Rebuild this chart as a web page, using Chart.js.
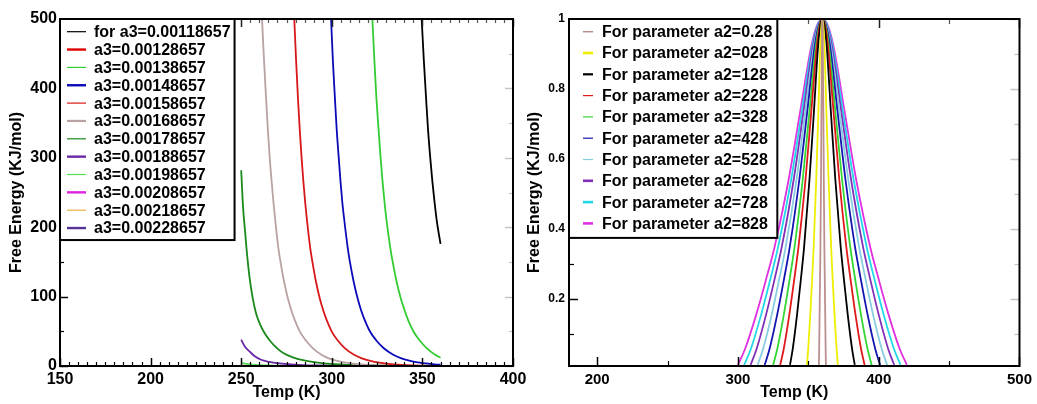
<!DOCTYPE html>
<html>
<head>
<meta charset="utf-8">
<script src="https://cdn.jsdelivr.net/npm/chart.js@4.4.1/dist/chart.umd.min.js"></script>
<style>
  html, body { margin: 0; padding: 0; background: #fff; }
  #wrap { position: relative; width: 1037px; height: 404px; overflow: hidden; }
  .panel { position: absolute; top: 0; height: 404px; }
  #p1 { left: 0; width: 532px; }
  #p2 { left: 520px; width: 517px; }
</style>
</head>
<body>
<div id="wrap">
  <div class="panel" id="p1"><canvas id="c1"></canvas></div>
  <div class="panel" id="p2"><canvas id="c2"></canvas></div>
</div>
<script>
// ---------- Left panel: free energy vs temperature for a range of a3 ----------
const a3Labels = [
  'for a3=0.00118657', 'a3=0.00128657', 'a3=0.00138657', 'a3=0.00148657',
  'a3=0.00158657', 'a3=0.00168657', 'a3=0.00178657', 'a3=0.00188657',
  'a3=0.00198657', 'a3=0.00208657', 'a3=0.00218657', 'a3=0.00228657'
];
const tempA3_1 = [349.6, 350.8, 352.0, 353.1, 354.3, 355.5, 356.7, 357.9, 360];
const feA3_1   = [500, 440, 387, 341, 301, 266, 236, 210, 176];
const tempA3_2 = [];
const feA3_2   = [];
const tempA3_3 = [322.4, 323.5, 324.6, 325.8, 326.9, 328.0, 329.1, 330.2, 332.3, 333.6,
                  335.8, 338.0, 340.2, 342.3, 345.0, 348.5, 352.5, 357.0, 360];
const feA3_3   = [500, 440, 387, 341, 301, 266, 236, 210, 170, 150,
                  121, 98, 80, 65, 50, 36.7, 25.5, 16.2, 12];
const tempA3_4 = [299.6, 300.6, 301.7, 302.7, 303.8, 304.8, 305.8, 306.9, 308.8, 310.0,
                  312.1, 314.2, 316.2, 318.3, 321.0, 324.6, 328.7, 333.9, 338.4, 343.3,
                  348.5, 356.8, 360];
const feA3_4   = [500, 440, 387, 341, 301, 266, 236, 210, 170, 150,
                  121, 98, 80, 65.3, 50, 36.7, 25.5, 16.2, 11, 7.3,
                  4.8, 2.4, 1.8];
const tempA3_5 = [279.3, 280.3, 281.3, 282.3, 283.3, 284.3, 285.3, 286.3, 288.1, 289.3,
                  291.3, 293.3, 295.3, 297.3, 299.9, 303.3, 307.3, 312.3, 316.6, 321.3,
                  326.3, 334.3, 344.3, 360];
const feA3_5   = [500, 440, 387, 341, 301, 266, 236, 210, 170, 150,
                  121, 98, 80, 65.3, 50, 36.7, 25.5, 16.2, 11, 7.3,
                  4.8, 2.4, 1.0, 0.3];
const tempA3_6 = [261.5, 262.6, 263.7, 264.7, 265.7, 266.8, 267.8, 268.8, 270.5, 271.7,
                  273.7, 275.7, 277.7, 279.7, 282.3, 285.7, 289.6, 294.3, 298.3, 303,
                  308, 316, 326, 342, 360];
const feA3_6   = [500, 440, 387, 341, 301, 266, 236, 210, 170, 150,
                  121, 98, 80, 65.3, 50, 36.7, 25.5, 16.2, 11, 7.3,
                  4.8, 2.4, 1.0, 0.3, 0.1];
const tempA3_7 = [250, 251, 252.2, 252.9, 254.5, 256.4, 258.3, 260.4, 262.8, 266,
                  270, 273.7, 278.5, 284, 292, 300, 310, 322, 338, 360];
const feA3_7   = [282, 230, 192, 170, 130, 97, 75, 60, 48, 36,
                  25, 18, 12.5, 8.5, 5, 3, 1.6, 0.8, 0.3, 0.1];
const tempA3_8 = [250, 252, 254.7, 257.5, 261, 265.5, 270, 276, 284, 295, 310, 330, 360];
const feA3_8   = [38, 28, 20.7, 14, 9, 6, 4, 2.5, 1.4, 0.7, 0.3, 0.1, 0.02];
const tempA3_9 = [250, 253, 256, 260, 265, 272, 282, 300, 330, 360];
const feA3_9   = [4.5, 3, 2, 1.2, 0.7, 0.35, 0.15, 0.05, 0.01, 0];
const tempA3_10 = [250, 260, 275, 300, 360];
const feA3_10   = [0.6, 0.25, 0.08, 0.02, 0];
const tempA3_11 = [250, 260, 280, 360];
const feA3_11   = [0.08, 0.03, 0.01, 0];
const tempA3_12 = [250, 265, 290, 360];
const feA3_12   = [0.01, 0.005, 0, 0];

const leftXTicks = [150, 200, 250, 300, 350, 400];
const leftYTicks = [0, 100, 200, 300, 400, 500];

// ---------- Right panel: normalised profile vs temperature for a range of a2 ----------
const a2Labels = [
  'For parameter a2=0.28', 'For parameter a2=028', 'For parameter a2=128',
  'For parameter a2=228', 'For parameter a2=328', 'For parameter a2=428',
  'For parameter a2=528', 'For parameter a2=628', 'For parameter a2=728',
  'For parameter a2=828'
];
// heights at which each curve's temperatures below were read
const bellLevels = [0.01, 0.055, 0.154, 0.255, 0.347, 0.54, 0.73, 0.92, 0.98, 1,
                    0.98, 0.92, 0.73, 0.54, 0.347, 0.255, 0.154, 0.055, 0.01];
const tempA2_0   = [357.5, 357.7, 358.0, 358.3, 358.6, 359.0, 359.3, 359.7, 359.8, 360,
                    360.2, 360.3, 360.7, 361.0, 361.4, 361.7, 362.0, 362.3, 362.5];
const tempA2_28  = [349.0, 349.9, 351.4, 352.7, 353.8, 355.6, 357.1, 358.5, 359.3, 360,
                    360.7, 361.5, 362.9, 364.4, 366.2, 367.3, 368.6, 370.1, 371.0];
const tempA2_128 = [337.0, 338.9, 342.0, 344.7, 347.0, 350.8, 353.9, 356.9, 358.5, 360,
                    361.5, 363.1, 366.1, 369.2, 373.0, 375.3, 378.0, 381.1, 383.0];
const tempA2_228 = [330.0, 332.5, 336.5, 340.0, 343.0, 348.0, 352.0, 356.0, 358.0, 360,
                    362.0, 364.0, 368.0, 372.0, 377.0, 380.0, 383.5, 387.5, 390.0];
const tempA2_328 = [325.0, 327.9, 332.6, 336.7, 340.2, 346.0, 350.7, 355.3, 357.7, 360,
                    362.3, 364.7, 369.3, 374.0, 379.8, 383.3, 387.4, 392.1, 395.0];
const tempA2_428 = [319.0, 322.4, 327.9, 332.7, 336.8, 343.6, 349.1, 354.5, 357.3, 360,
                    362.7, 365.5, 370.9, 376.4, 383.2, 387.3, 392.1, 397.6, 401.0];
const tempA2_528 = [314.0, 317.8, 324.0, 329.3, 333.9, 341.6, 347.7, 353.9, 356.9, 360,
                    363.1, 366.1, 372.3, 378.4, 386.1, 390.7, 396.0, 402.2, 406.0];
const tempA2_628 = [309.0, 313.2, 320.0, 326.0, 331.1, 339.6, 346.4, 353.2, 356.6, 360,
                    363.4, 366.8, 373.6, 380.4, 388.9, 394.0, 400.0, 406.8, 411.0];
const tempA2_728 = [304.5, 309.1, 316.5, 323.0, 328.5, 337.8, 345.2, 352.6, 356.3, 360,
                    363.7, 367.4, 374.8, 382.2, 391.5, 397.0, 403.5, 410.9, 415.5];
const tempA2_828 = [300.0, 305.0, 313.0, 320.0, 326.0, 336.0, 344.0, 352.0, 356.0, 360,
                    364.0, 368.0, 376.0, 384.0, 394.0, 400.0, 407.0, 415.0, 420.0];

const rightXTicks = [200, 300, 400, 500];
const rightYTicks = [0.2, 0.4, 0.6, 0.8, 1];

// ---------- styles ----------
const a3Colors = ['#000000', '#e00000', '#33cc33', '#0a0ab8', '#d81818', '#b8a2a2',
                  '#1a8a1a', '#6a2aa8', '#55dd55', '#dd22dd', '#e8b040', '#553399'];
const a3KeyWidths = [1.2, 2.4, 1.2, 2.4, 1.2, 2.2, 1.2, 2.4, 1.2, 2.4, 1.2, 2.4];
const a2Colors = ['#bc8f8f', '#eeee00', '#000000', '#e01a1a', '#33d633', '#1414b0',
                  '#88cce0', '#8030b8', '#22d8e8', '#e030e0'];
const a2KeyWidths = [1.5, 2.6, 2.2, 1.2, 1.2, 1.2, 1.2, 2.6, 2.6, 2.6];

const FONT = "'Liberation Sans', Arial, Helvetica, sans-serif";

function toPoints(xs, ys) { return xs.map((t, i) => ({ x: t, y: ys[i] })); }

const a3Series = [
  [tempA3_1, feA3_1], [tempA3_2, feA3_2], [tempA3_3, feA3_3], [tempA3_4, feA3_4],
  [tempA3_5, feA3_5], [tempA3_6, feA3_6], [tempA3_7, feA3_7], [tempA3_8, feA3_8],
  [tempA3_9, feA3_9], [tempA3_10, feA3_10], [tempA3_11, feA3_11], [tempA3_12, feA3_12]
];
const a2Temps = [tempA2_0, tempA2_28, tempA2_128, tempA2_228, tempA2_328, tempA2_428,
                 tempA2_528, tempA2_628, tempA2_728, tempA2_828];

// Inward ticks on all four sides, the plot frame, axis titles and a boxed key.
const framePlugin = {
  id: 'framePlugin',
  afterDatasetsDraw(chart, args, o) {
    const { ctx, chartArea: a, scales: { x, y } } = chart;
    ctx.save();
    const seg = (x1, y1, x2, y2, color, w) => {
      ctx.beginPath(); ctx.strokeStyle = color; ctx.lineWidth = w;
      ctx.moveTo(x1, y1); ctx.lineTo(x2, y2); ctx.stroke();
    };
    const xt = (vals, len, w, topColor) => vals.forEach(v => {
      const px = Math.round(x.getPixelForValue(v)) + 0.5;
      seg(px, a.bottom, px, a.bottom - len, '#000', w);
      seg(px, a.top, px, a.top + len, topColor, w);
    });
    const yt = (vals, len, w) => vals.forEach(v => {
      const py = Math.round(y.getPixelForValue(v)) + 0.5;
      seg(a.left, py, a.left + len, py, '#000', w);
      seg(a.right, py, a.right - len, py, '#c4c4c4', w);
    });
    xt(o.xMinor, o.minorLen, 1.2, '#555');
    xt(o.xMajor, o.majorLen, 1.5, '#222');
    yt(o.yMinor, o.minorLen, 1.2);
    yt(o.yMajor, o.majorLen, 1.5);

    ctx.lineWidth = 2; ctx.strokeStyle = '#000';
    ctx.strokeRect(a.left, a.top, a.right - a.left, a.bottom - a.top);

    // axis titles
    ctx.fillStyle = '#000';
    ctx.font = 'bold 16px ' + FONT;
    ctx.textAlign = 'center'; ctx.textBaseline = 'middle';
    ctx.fillText('Temp (K)', (a.left + a.right) / 2, o.xTitleY);
    ctx.save();
    ctx.translate(o.yTitleX, (a.top + a.bottom) / 2);
    ctx.rotate(-Math.PI / 2);
    ctx.fillText('Free Energy (KJ/mol)', 0, 0);
    ctx.restore();

    // key
    const ds = chart.data.datasets;
    ctx.font = 'bold 16px ' + FONT;
    ctx.textAlign = 'left';
    let maxW = 0;
    ds.forEach(d => { maxW = Math.max(maxW, ctx.measureText(d.label).width); });
    const bx = a.left, by = a.top;
    const bw = o.textX + maxW + o.keyPadRight;
    const bh = o.firstRow + (ds.length - 1) * o.rowH + o.keyPadBottom;
    ctx.fillStyle = '#fff';
    ctx.fillRect(bx, by, bw, bh);
    ds.forEach((d, i) => {
      const ry = by + o.firstRow + i * o.rowH;
      seg(bx + o.lineX0, ry, bx + o.lineX1, ry, d.borderColor, o.keyWidths[i]);
      ctx.fillStyle = '#000';
      ctx.fillText(d.label, bx + o.textX, ry + 1);
    });
    ctx.lineWidth = 2; ctx.strokeStyle = '#000';
    ctx.strokeRect(bx, by, bw, bh);
    ctx.restore();
  }
};

function fixedSize(w, h) {
  return s => { if (w !== null) s.width = w; if (h !== null) s.height = h; };
}
function range(a, b, step, skip) {
  const out = [];
  for (let v = a; v <= b + 1e-9; v += step) {
    const r = Math.round(v * 1000) / 1000;
    if (!skip.some(k => Math.abs(k - r) < 1e-6)) out.push(r);
  }
  return out;
}

Chart.defaults.font.family = FONT;
Chart.defaults.color = '#000';

new Chart(document.getElementById('c1'), {
  type: 'line',
  data: {
    datasets: a3Series.map((s, i) => ({
      label: a3Labels[i],
      data: toPoints(s[0], s[1]),
      borderColor: a3Colors[i],
      borderWidth: 1.8,
      pointRadius: 0,
      fill: false,
      cubicInterpolationMode: 'monotone'
    }))
  },
  options: {
    responsive: true, maintainAspectRatio: false, animation: false, devicePixelRatio: 1,
    layout: { padding: { top: 19, right: 19, bottom: 0, left: 0 } },
    plugins: {
      legend: { display: false }, tooltip: { enabled: false },
      framePlugin: {
        xMajor: leftXTicks, xMinor: range(150, 400, 5, leftXTicks),
        yMajor: leftYTicks, yMinor: range(50, 450, 100, []),
        majorLen: 8, minorLen: 4,
        xTitleY: 393, yTitleX: 17,
        firstRow: 12.7, rowH: 17.85, keyPadBottom: 12,
        lineX0: 7, lineX1: 26, textX: 34, keyPadRight: 4,
        keyWidths: a3KeyWidths
      }
    },
    scales: {
      x: {
        type: 'linear', min: 150, max: 400,
        afterBuildTicks: s => { s.ticks = leftXTicks.map(v => ({ value: v })); },
        afterFit: fixedSize(null, 38),
        grid: { display: false, drawTicks: false }, border: { display: false },
        ticks: { font: { size: 16, weight: 'bold' }, padding: 4, maxRotation: 0, autoSkip: false,
                 callback: v => String(v) }
      },
      y: {
        type: 'linear', min: 0, max: 500,
        afterBuildTicks: s => { s.ticks = leftYTicks.map(v => ({ value: v })); },
        afterFit: fixedSize(60, null),
        grid: { display: false, drawTicks: false }, border: { display: false },
        ticks: { font: { size: 16, weight: 'bold' }, padding: 3, callback: v => String(v) }
      }
    }
  },
  plugins: [framePlugin]
});

new Chart(document.getElementById('c2'), {
  type: 'line',
  data: {
    datasets: a2Temps.map((t, i) => ({
      label: a2Labels[i],
      data: toPoints(t, bellLevels),
      borderColor: a2Colors[i],
      borderWidth: 1.8,
      pointRadius: 0,
      fill: false,
      cubicInterpolationMode: 'monotone'
    }))
  },
  options: {
    responsive: true, maintainAspectRatio: false, animation: false, devicePixelRatio: 1,
    layout: { padding: { top: 19, right: 14, bottom: 0, left: 0 } },
    plugins: {
      legend: { display: false }, tooltip: { enabled: false },
      framePlugin: {
        xMajor: rightXTicks, xMinor: [250, 350, 450],
        yMajor: rightYTicks, yMinor: [0.1, 0.3, 0.5, 0.7, 0.9],
        majorLen: 9, minorLen: 5,
        xTitleY: 393, yTitleX: 15,
        firstRow: 12.7, rowH: 21.3, keyPadBottom: 14.5,
        lineX0: 14, lineX1: 24, textX: 33, keyPadRight: 5,
        keyWidths: a2KeyWidths
      }
    },
    scales: {
      x: {
        type: 'linear', min: 180, max: 500,
        afterBuildTicks: s => { s.ticks = rightXTicks.map(v => ({ value: v })); },
        afterFit: fixedSize(null, 38),
        grid: { display: false, drawTicks: false }, border: { display: false },
        ticks: { font: { size: 15, weight: 'bold' }, padding: 5, maxRotation: 0, autoSkip: false,
                 callback: v => String(v) }
      },
      y: {
        type: 'linear', min: 0.007, max: 1,
        afterBuildTicks: s => { s.ticks = rightYTicks.map(v => ({ value: v })); },
        afterFit: fixedSize(49, null),
        grid: { display: false, drawTicks: false }, border: { display: false },
        ticks: { font: { size: 12, weight: 'bold' }, padding: 4, callback: v => String(v) }
      }
    }
  },
  plugins: [framePlugin]
});
</script>
</body>
</html>
